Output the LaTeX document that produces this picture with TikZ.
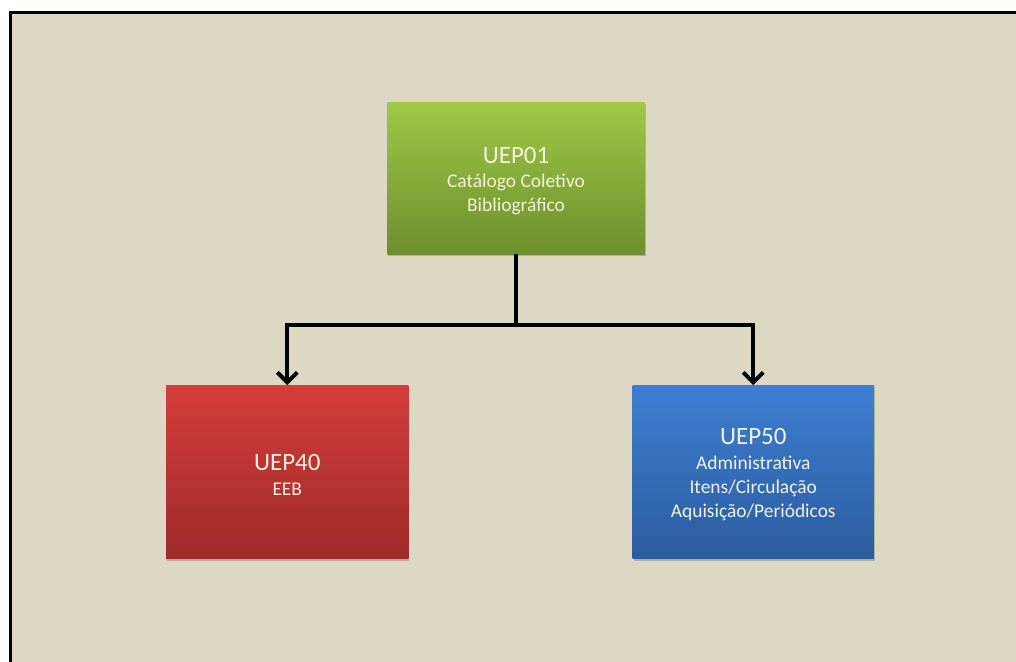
\documentclass[tikz,border=0pt]{standalone}
\usepackage{fontspec}
\setmainfont{Carlito}
\usetikzlibrary{arrows.meta,shadows,shadings}
\definecolor{bgbeige}{HTML}{DDD8C3}
\definecolor{txtpale}{HTML}{F2F1DE}
\definecolor{gtop}{HTML}{9FC847}
\definecolor{gbot}{HTML}{6D8F2D}
\definecolor{rtop}{HTML}{D33D3A}
\definecolor{rbot}{HTML}{9F2B29}
\definecolor{btop}{HTML}{3E7ED2}
\definecolor{bbot}{HTML}{2B5C9E}
\tikzset{
  unitbox/.style={rectangle, inner sep=0pt, align=center, text=txtpale,
    font=\fontsize{19.5}{24}\selectfont,
    drop shadow={shadow xshift=1pt, shadow yshift=-2pt, opacity=0.35, fill=black!60}},
  link/.style={line width=4bp, black},
  linkarrow/.style={link, -{Straight Barb[length=10bp, width=20bp, line width=4bp]}}
}
\newcommand{\uttl}[1]{{\fontsize{25}{28}\selectfont\rule{0pt}{22pt}#1}}
\begin{document}
\begin{tikzpicture}[x=1bp, y=-1bp]
\useasboundingbox (0,0) rectangle (1015,661.35);
\fill[white] (-10,-10) rectangle (1040,680);
\fill[bgbeige] (10,12) rectangle (1040,680);
\draw[line width=3bp, line cap=rect] (10,680) -- (10,12) -- (1040,12);

\node[unitbox, minimum width=257bp, minimum height=152bp, top color=gtop, bottom color=gbot]
  (g) at (515.5,178) {\uttl{UEP01}\\[1pt]Catálogo Coletivo\\Bibliográfico};
\node[unitbox, minimum width=242bp, minimum height=173bp, top color=rtop, bottom color=rbot]
  (r) at (287,471.5) {\uttl{UEP40}\\[1pt]EEB};
\node[unitbox, minimum width=241bp, minimum height=173bp, top color=btop, bottom color=bbot]
  (b) at (752.5,471.5) {\uttl{UEP50}\\[1pt]Administrativa\\Itens/Circulação\\Aquisição/Periódicos};

\coordinate (j) at (515.5,325);
\draw[link] (g.south) -- (j);
\draw[linkarrow] (j) -| (r.north);
\draw[linkarrow] (j) -| (b.north);
\end{tikzpicture}
\end{document}
